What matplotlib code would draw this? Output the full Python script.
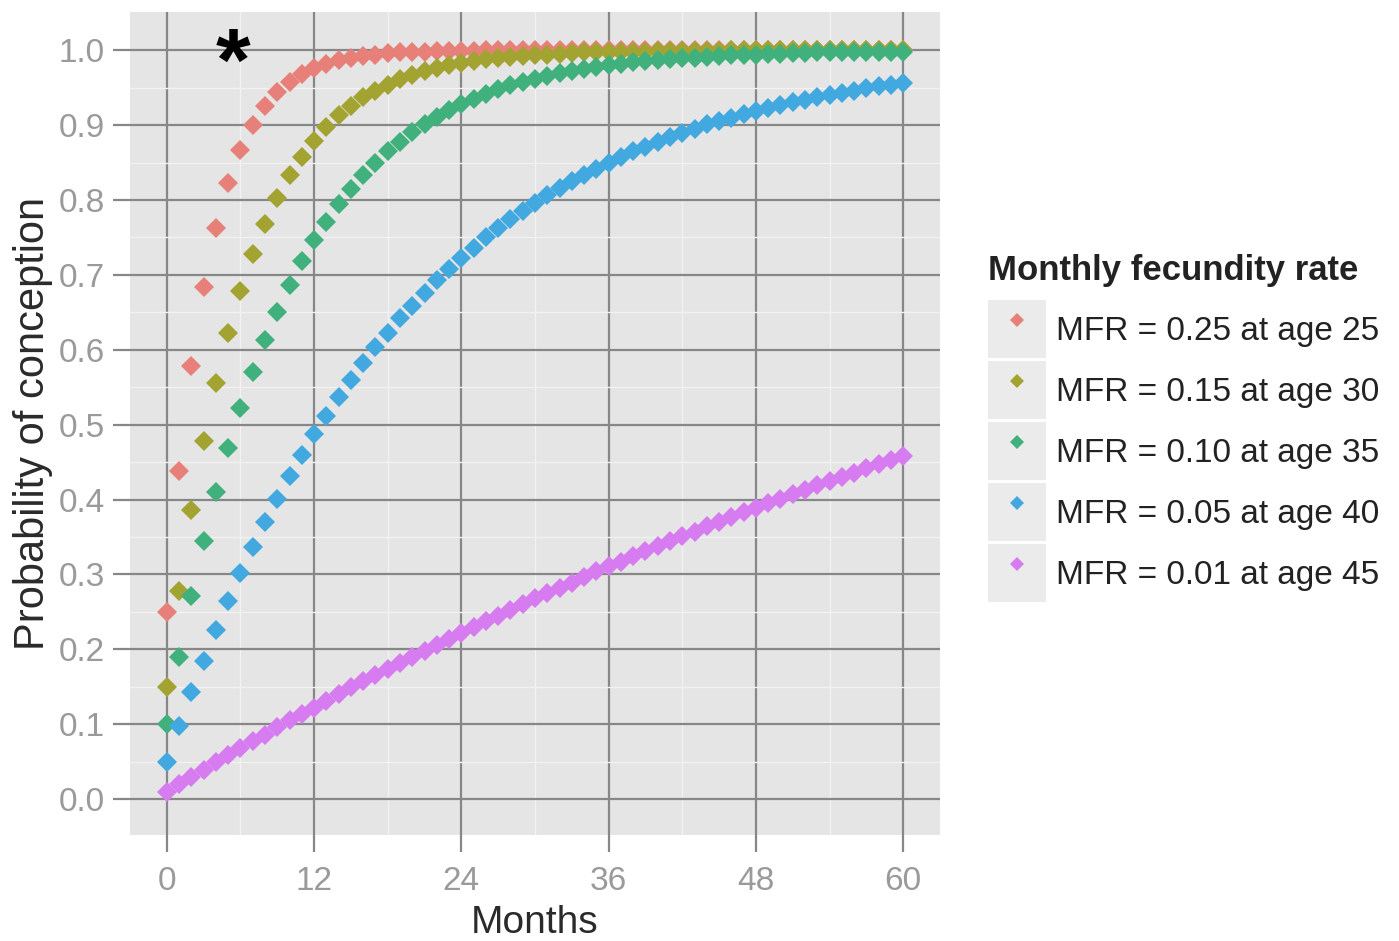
import numpy as np
import matplotlib
matplotlib.use('Agg')
import matplotlib.pyplot as plt
from matplotlib.lines import Line2D
from matplotlib.patches import Rectangle
from matplotlib.legend_handler import HandlerTuple

plt.rcParams['font.family'] = ['Liberation Sans', 'DejaVu Sans']

# Cumulative probability of conception by month
months = list(range(61))

mfr_25 = [0.250, 0.438, 0.578, 0.684, 0.763, 0.822, 0.867, 0.900, 0.925, 0.944,
          0.958, 0.968, 0.976, 0.982, 0.987, 0.990, 0.992, 0.994, 0.996, 0.997,
          0.998, 0.998, 0.999, 0.999, 0.999, 0.999, 1.000, 1.000, 1.000, 1.000,
          1.000, 1.000, 1.000, 1.000, 1.000, 1.000, 1.000, 1.000, 1.000, 1.000,
          1.000, 1.000, 1.000, 1.000, 1.000, 1.000, 1.000, 1.000, 1.000, 1.000,
          1.000, 1.000, 1.000, 1.000, 1.000, 1.000, 1.000, 1.000, 1.000, 1.000,
          1.000]
mfr_15 = [0.150, 0.278, 0.386, 0.478, 0.556, 0.623, 0.679, 0.728, 0.768, 0.803,
          0.833, 0.858, 0.879, 0.897, 0.913, 0.926, 0.937, 0.946, 0.954, 0.961,
          0.967, 0.972, 0.976, 0.980, 0.983, 0.985, 0.988, 0.989, 0.991, 0.992,
          0.994, 0.994, 0.995, 0.996, 0.997, 0.997, 0.998, 0.998, 0.998, 0.998,
          0.999, 0.999, 0.999, 0.999, 0.999, 0.999, 1.000, 1.000, 1.000, 1.000,
          1.000, 1.000, 1.000, 1.000, 1.000, 1.000, 1.000, 1.000, 1.000, 1.000,
          1.000]
mfr_10 = [0.100, 0.190, 0.271, 0.344, 0.410, 0.469, 0.522, 0.570, 0.613, 0.651,
          0.686, 0.718, 0.746, 0.771, 0.794, 0.815, 0.833, 0.850, 0.865, 0.878,
          0.891, 0.902, 0.911, 0.920, 0.928, 0.935, 0.942, 0.948, 0.953, 0.958,
          0.962, 0.966, 0.969, 0.972, 0.975, 0.977, 0.980, 0.982, 0.984, 0.985,
          0.987, 0.988, 0.989, 0.990, 0.991, 0.992, 0.993, 0.994, 0.994, 0.995,
          0.995, 0.996, 0.996, 0.997, 0.997, 0.997, 0.998, 0.998, 0.998, 0.998,
          0.998]
mfr_05 = [0.050, 0.098, 0.143, 0.185, 0.226, 0.265, 0.302, 0.337, 0.370, 0.401,
          0.431, 0.460, 0.487, 0.512, 0.537, 0.560, 0.582, 0.603, 0.623, 0.642,
          0.659, 0.676, 0.693, 0.708, 0.723, 0.736, 0.750, 0.762, 0.774, 0.785,
          0.796, 0.806, 0.816, 0.825, 0.834, 0.842, 0.850, 0.858, 0.865, 0.871,
          0.878, 0.884, 0.890, 0.895, 0.901, 0.906, 0.910, 0.915, 0.919, 0.923,
          0.927, 0.931, 0.934, 0.937, 0.940, 0.943, 0.946, 0.949, 0.952, 0.954,
          0.956]
mfr_01 = [0.010, 0.020, 0.030, 0.039, 0.049, 0.059, 0.068, 0.077, 0.086, 0.096,
          0.105, 0.114, 0.122, 0.131, 0.140, 0.149, 0.157, 0.165, 0.174, 0.182,
          0.190, 0.198, 0.206, 0.214, 0.222, 0.230, 0.238, 0.245, 0.253, 0.260,
          0.268, 0.275, 0.282, 0.289, 0.297, 0.304, 0.311, 0.317, 0.324, 0.331,
          0.338, 0.344, 0.351, 0.357, 0.364, 0.370, 0.376, 0.383, 0.389, 0.395,
          0.401, 0.407, 0.413, 0.419, 0.425, 0.430, 0.436, 0.442, 0.447, 0.453,
          0.458]

series = [mfr_25, mfr_15, mfr_10, mfr_05, mfr_01]
labels = ['MFR = 0.25 at age 25', 'MFR = 0.15 at age 30', 'MFR = 0.10 at age 35',
          'MFR = 0.05 at age 40', 'MFR = 0.01 at age 45']
colors = ['#E8807A', '#A3A332', '#40B07C', '#42A8E0', '#D67CF0']

x_ticks = [0, 12, 24, 36, 48, 60]
y_ticks = [0.0, 0.1, 0.2, 0.3, 0.4, 0.5, 0.6, 0.7, 0.8, 0.9, 1.0]

fig = plt.figure(figsize=(13.99, 9.41), dpi=100)
ax = fig.add_axes([130 / 1399, 106 / 941, 810 / 1399, 823 / 941])
ax.set_facecolor('#E5E5E5')

for ys, c in zip(series, colors):
    ax.plot(months, ys, linestyle='none', marker='D', ms=10.5, mew=0, color=c)

# asterisk annotation near the top
ax.text(5.4, 0.978, '*', fontsize=64, fontweight='bold', color='black',
        ha='center', va='center')

ax.set_xlim(-3, 63)
ax.set_ylim(-0.048, 1.051)
ax.set_xticks(x_ticks)
ax.set_yticks(y_ticks)
ax.set_xticks([6, 18, 30, 42, 54], minor=True)
ax.set_yticks(np.array(y_ticks[:-1]) + 0.05, minor=True)
ax.set_yticklabels(['%.1f' % v for v in y_ticks])
ax.grid(True, which='major', color='#878787', linewidth=1.6)
ax.grid(True, which='minor', color='#F2F2F2', linewidth=1.0)
ax.set_axisbelow(True)
for s in ax.spines.values():
    s.set_visible(False)
ax.tick_params(which='major', length=12, width=1.6, color='#878787',
               labelsize=24, labelcolor='#9A9A9A')
ax.tick_params(axis='x', which='major', pad=10)
ax.tick_params(axis='y', which='major', pad=6)
ax.tick_params(which='minor', length=0)

ax.set_xlabel('Months', fontsize=28, color='#2A2A2A', labelpad=6)
ax.set_ylabel('Probability of conception', fontsize=30, color='#2A2A2A', labelpad=4)

# legend with grey key boxes
handles = []
for c in colors:
    box = Rectangle((0, 0), 1, 1, facecolor='#EBEBEB', edgecolor='none')
    mk = Line2D([], [], linestyle='none', marker='D', ms=7, mew=0, color=c)
    handles.append((box, mk))
leg = fig.legend(handles, labels, handler_map={tuple: HandlerTuple(ndivide=1, pad=0)},
                 loc='upper left', bbox_to_anchor=(988 / 1399, 1 - 254 / 941),
                 frameon=False, fontsize=24, title='Monthly fecundity rate',
                 title_fontproperties={'size': 25, 'weight': 'bold'},
                 handlelength=1.75, handleheight=2.3, labelspacing=0.09,
                 handletextpad=0.3, borderpad=0, borderaxespad=0)
leg._legend_box.align = 'left'
leg._legend_box.sep = 9.5  # gap between title and keys
for t in leg.get_texts():
    t.set_color('#222222')
leg.get_title().set_color('#222222')

fig.savefig('out.png', dpi=100)
